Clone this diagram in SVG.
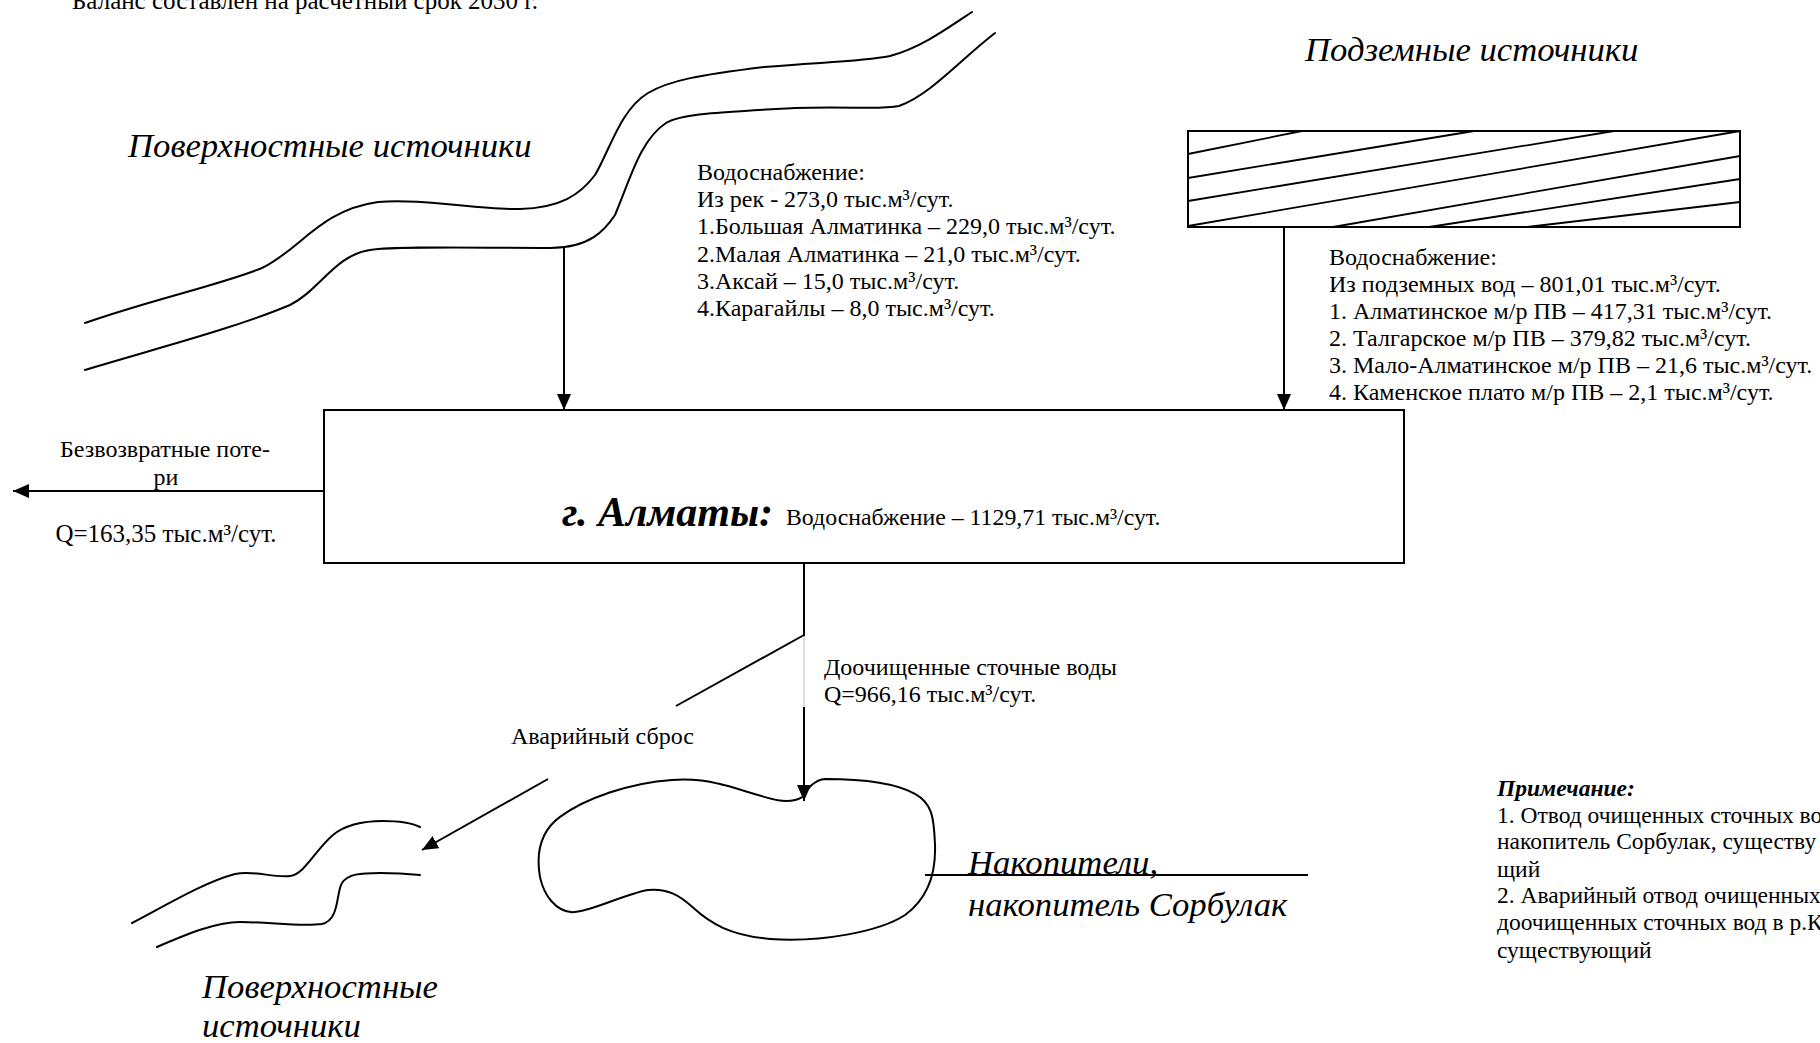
<svg xmlns="http://www.w3.org/2000/svg" width="1820" height="1043" viewBox="0 0 1820 1043">
<style>
.t{font-family:"Liberation Serif","Times New Roman",serif;font-size:24px;fill:#000}
.it{font-family:"Liberation Serif","Times New Roman",serif;font-style:italic;font-size:34.7px;fill:#000}
.bi{font-family:"Liberation Serif","Times New Roman",serif;font-style:italic;font-weight:bold;fill:#000}
.ln{fill:none;stroke:#000;stroke-width:2}
.rv{fill:none;stroke:#000;stroke-width:2;stroke-linecap:round}
.ht{fill:none;stroke:#000;stroke-width:1.8}
</style>
<defs>
<marker id="ah" markerUnits="userSpaceOnUse" markerWidth="16" markerHeight="14" refX="16" refY="7" orient="auto">
<path d="M0,0 L16,7 L0,14 Z" fill="#000"/>
</marker>
</defs>
<rect width="1820" height="1043" fill="#fff"/>
<text class="t" x="72" y="9" style="font-size:25px">Баланс составлен на расчетный срок 2030 г.</text>

<g id="surface-top">
<path class="rv" d="M85,323 C150,300 220,285 262,268 C300,250 320,210 378,202 C420,198 480,210 520,209 C560,208 580,195 595,175 C610,150 620,110 648,93 C670,80 700,75 764,67 C820,62 860,62 890,56 C920,48 945,30 972,12"/>
<path class="rv" d="M85,370 C150,350 230,330 290,305 C320,290 335,255 370,250 C400,246 470,248 550,248 C590,248 605,230 615,215 C630,180 640,140 666,123 C680,114 720,112 795,108 C850,106 880,110 899,106 C930,95 960,60 995,33"/>
<text class="it" x="128" y="157">Поверхностные источники</text>
</g>

<g id="surface-text">
<text class="t" x="697" y="180">Водоснабжение:</text>
<text class="t" x="697" y="207">Из рек - 273,0 тыс.м³/сут.</text>
<text class="t" x="697" y="234">1.Большая Алматинка – 229,0 тыс.м³/сут.</text>
<text class="t" x="697" y="262">2.Малая Алматинка – 21,0 тыс.м³/сут.</text>
<text class="t" x="697" y="289">3.Аксай – 15,0 тыс.м³/сут.</text>
<text class="t" x="697" y="316">4.Карагайлы – 8,0 тыс.м³/сут.</text>
</g>

<g id="underground">
<text class="it" x="1305" y="61">Подземные источники</text>
<rect class="ln" x="1188" y="131" width="552" height="96"/>
<line class="ht" x1="1188" y1="154" x2="1302" y2="131"/>
<line class="ht" x1="1188" y1="178" x2="1474" y2="131"/>
<line class="ht" x1="1188" y1="201" x2="1614" y2="131"/>
<line class="ht" x1="1188" y1="226" x2="1740" y2="131"/>
<line class="ht" x1="1333" y1="227" x2="1740" y2="156"/>
<line class="ht" x1="1429" y1="227" x2="1740" y2="179"/>
<line class="ht" x1="1527" y1="227" x2="1740" y2="202"/>
</g>

<g id="underground-text">
<text class="t" x="1329" y="265">Водоснабжение:</text>
<text class="t" x="1329" y="292">Из подземных вод – 801,01 тыс.м³/сут.</text>
<text class="t" x="1329" y="319">1. Алматинское м/р ПВ – 417,31 тыс.м³/сут.</text>
<text class="t" x="1329" y="346">2. Талгарское м/р ПВ – 379,82 тыс.м³/сут.</text>
<text class="t" x="1329" y="373">3. Мало-Алматинское м/р ПВ – 21,6 тыс.м³/сут.</text>
<text class="t" x="1329" y="400">4. Каменское плато м/р ПВ – 2,1 тыс.м³/сут.</text>
</g>

<g id="city">
<rect class="ln" x="324" y="410" width="1080" height="153"/>
<text class="bi" x="562" y="526" style="font-size:42px">г. Алматы:</text>
<text class="t" x="786" y="525" style="font-size:23.8px">Водоснабжение – 1129,71 тыс.м³/сут.</text>
</g>

<g id="losses">
<text class="t" x="165" y="457" text-anchor="middle">Безвозвратные поте-</text>
<text class="t" x="166" y="485" text-anchor="middle">ри</text>
<text class="t" x="166" y="542" text-anchor="middle" style="font-size:25px">Q=163,35 тыс.м³/сут.</text>
</g>

<g id="discharge-labels">
<text class="t" x="824" y="675">Доочищенные сточные воды</text>
<text class="t" x="824" y="702">Q=966,16 тыс.м³/сут.</text>
<text class="t" x="511" y="744">Аварийный сброс</text>
</g>

<g id="reservoir">
<path class="rv" d="M803,796.6 C797,800.3 788,802.1 778,800.3 C760,796.6 735,787.3 718,783.6 C700,779 685,779 672,779.9 C630,782.7 585,798.4 560,816.9 C540,831.7 536,853.9 540,877.1 C544,895.6 556,911.3 572,912.2 C590,912.2 625,893.7 648,890 C668,888.2 680,895.6 693,907.6 C710,923.3 730,935.3 770,939 C820,942.7 880,931.6 905,915 C928,898.3 936,872.4 935,844.7 C934,816.9 932,803.1 915,793.8 C895,782.7 860,779 825,779 C815,779.9 808,787.3 803,796.6 Z"/>
<line class="ln" x1="925" y1="875" x2="1308" y2="875"/>
<text class="it" x="968" y="874">Накопители,</text>
<text class="it" x="968" y="916">накопитель Сорбулак</text>
</g>

<g id="surface-bottom">
<path class="rv" d="M132,923 C170,903 205,882 235,874 C255,870 272,878 290,876 C305,874 315,850 333,835 C345,825 360,821 383,821 C400,821 412,823 420,827"/>
<path class="rv" d="M157,947 C185,935 215,922 240,922 C270,922 300,927 322,924 C340,920 336,892 342,883 C348,874 360,873 380,873 C395,873 410,874 420,875"/>
<text class="it" x="202" y="998">Поверхностные</text>
<text class="it" x="202" y="1037">источники</text>
</g>

<g id="note">
<text class="bi" x="1497" y="796" style="font-size:23.5px">Примечание:</text>
<text class="t" x="1497" y="823" style="font-size:23.5px">1. Отвод очищенных сточных во</text>
<text class="t" x="1497" y="849" style="font-size:23.5px">накопитель Сорбулак, существу</text>
<text class="t" x="1497" y="877" style="font-size:23.5px">щий</text>
<text class="t" x="1497" y="903" style="font-size:23.5px">2. Аварийный отвод очищенных</text>
<text class="t" x="1497" y="930" style="font-size:23.5px">доочищенных сточных вод в р.К</text>
<text class="t" x="1497" y="958" style="font-size:23.5px">существующий</text>
</g>

<g id="connectors">
<line class="ln" x1="564" y1="248" x2="564" y2="410" marker-end="url(#ah)"/>
<line class="ln" x1="1284" y1="227" x2="1284" y2="410" marker-end="url(#ah)"/>
<line class="ln" x1="324" y1="491" x2="13" y2="491" marker-end="url(#ah)"/>
<line class="ln" x1="804" y1="563" x2="804" y2="636"/>
<line x1="804" y1="636" x2="804" y2="707" stroke="#bbb" stroke-width="1"/>
<line class="ln" x1="804" y1="707" x2="804" y2="801" marker-end="url(#ah)"/>
<line class="ln" x1="804" y1="635" x2="676" y2="706"/>
<line class="ln" x1="548" y1="779" x2="422" y2="850" marker-end="url(#ah)"/>
</g>
</svg>
